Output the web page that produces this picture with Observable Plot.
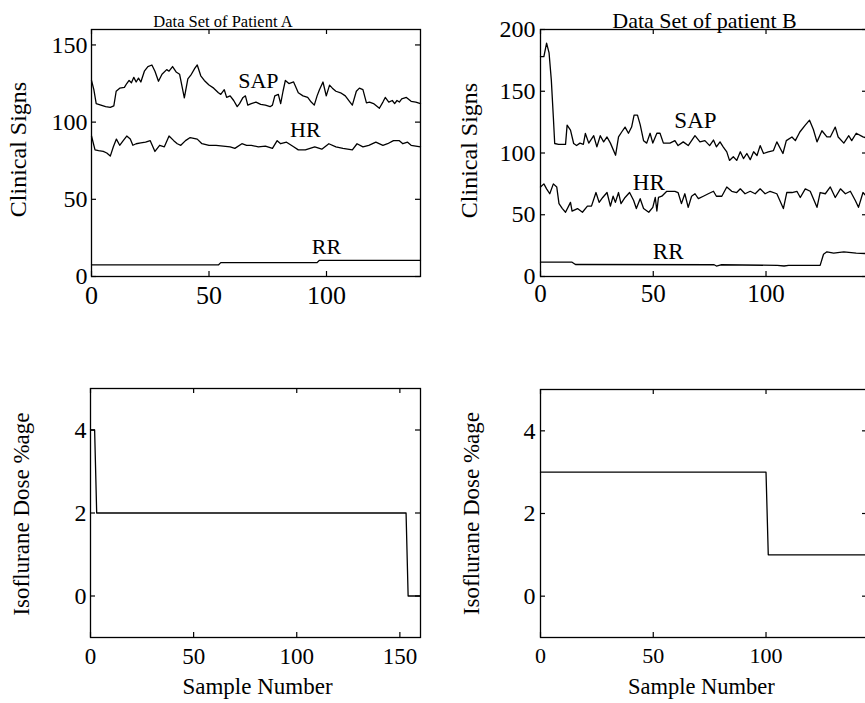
<!DOCTYPE html>
<html>
<head>
<meta charset="utf-8">
<script src="https://cdn.jsdelivr.net/npm/d3@7"></script>
<script src="https://cdn.jsdelivr.net/npm/@observablehq/plot@0.6"></script>
<style>
html, body { margin: 0; padding: 0; background: #fff; overflow: hidden; }
#wrap { position: relative; width: 865px; height: 703px; overflow: hidden; background: #fff; }
.panel { position: absolute; }
</style>
</head>
<body>
<div id="wrap"></div>
<script>
// ---------- Patient A : clinical signs ----------
const aSapX = [0,1,2,4,6,8,9.5,10.5,12,14,15,16,17,18,19,20,21,22.5,24,25.7,27,28.5,30,32,33,34.5,36,37.5,39.5,41,42.5,44,45,46.5,48,50,52,54,55,56.5,57.5,59,60.5,62,63,64.5,65.5,66.5,68,70,72,74,76,77,78,79.5,80.5,81.5,82.5,84,86,88,90,92,93.5,94.8,96,97,98.5,99.9,101.3,102.5,104,106,108,110,111,112.7,114,115.5,117,118.3,120,122.5,124,125,126.5,128,129,130,131,132,134,136,138,140];
const aSap  = [127,121,112,111,110,109.5,110.5,120,122,122.5,125,127,125.5,129,126,128.5,126,133,136,137,133,126.5,131,134,133,136,132.5,131,115.7,128,131,135,137,130,127,124,122,119,118,121,116,117,114,110,112,116,117,111,112,113,111.5,111,110,111,117,118,112,120,127,125,126,119,117,116,113,111,117,121,126,117,124,122,120,119,117,113,111,120,122,121,112.5,113,112,109,113,116,113,114,112,114,113,115,116,113.5,113,112];
const aHrX = [0,1.5,3,5,6.5,8,9.3,10.6,12,13.5,15,16.5,17.6,19,21,23,25,27,29,31,33,35,36.5,38,40,42,45,47,50,53,56,59,61,64,66,68,71,74,77,79,80.5,83,86,88,91,93,95,98,101,104,107,111,113,115.5,118,121,124,126,128.5,131,132.5,134.5,136,140];
const aHr  = [91,82,81.5,81,80,78,84,89,85,88,91,89,85,86,86.5,87,88,81,85,84,91,88,86,85,88,90,89,86,85,85,84.5,84,83,86,85,85,84,84.5,83,88,86,87,84,82,82,83,84,82.5,86,84,83,82,86,84,85,87,85,86,88,88,86,87,85,84];
const aRrX = [0,54,55,96,97,140];
const aRr  = [7.5,7.5,9,9,10.5,10.5];

// ---------- Patient B : clinical signs ----------
const bSapX = [0,1.5,2.7,3.8,4.8,5.7,6.3,8,11.1,11.8,13.3,14.7,16,17.5,19,19.9,21.4,23.6,25,26.5,28,29.5,31,33.3,34.6,36,37.5,39,40.4,41.5,43,44.2,45.7,47.1,48.6,49.8,51.6,53,54.5,57.4,59.6,61,63.3,65.5,68.5,70.7,72.9,75,76.7,78,79.6,81,82.6,83.8,85.5,87,88.6,90,91.5,93,94.5,96,97.4,98.9,101,103.3,104.8,107.5,109,111.5,113,115,117.4,119.3,121,122.6,124.8,127,128.5,130.7,132,134.5,136.7,138,140,143,145];
const bSap  = [178,178,189,181,159,129,107.7,107,107,122.6,118.5,107.7,106,108,107,115.8,108,114,105,114,109,113,108,98.2,113,117,121,116,121,130.7,130.7,123,110,108,116,108,116,116,108,108,110,106,109,106,114,109,110,106,110.5,105,109,105,100.9,94,97,94,101,95.5,99.6,94.6,101,98,106,99.6,101,102,109,99.6,110,113,110,117,122.6,126.6,119,109,118,113,113,121,113,108,114,110,116,113,112];
const bHrX = [0,1.5,2.7,4.1,5.7,7.2,8.2,9.7,11.1,13.3,14,16.4,18.6,20.8,22.6,24.6,26,27.6,29.5,31,32.2,33.2,34.6,35.7,37.5,39.5,41.3,42.5,44.2,45.7,48,49.8,50.9,51.6,52.3,53.8,56,59.6,61,62.5,64,65.5,67,68.5,70,72.2,74.4,76.7,78,80.4,82.6,84.8,87,88.6,90.7,93,95.2,97.4,99.6,101.8,104.8,107.7,109.2,111.5,113.7,115.2,117.4,119.6,122.6,124,126.3,128.5,130.7,133,135.2,137.4,139.6,141,143,145];
const bHr  = [72.5,75,71,67,75,72.5,59,55,52,60,53,55,52,57,57,68,60,64,68,57,65,60,68,59,64,68,61.5,55,63,55,52,56,64,53,64,65,69,69,68,59,67,56,65,67,63,65,67,69,65,65,72.5,69,68,71,67,69,67,71,67,69,67,55,68,68,69,64,71,69,56,68,67,72.5,64,71,67,69,61.5,56,68,64];
const bRrX = [0,14,15.5,77,78,80,105,108,110,124,125.5,127,130,134.5,140,145];
const bRr  = [11.6,11.6,9.7,9.5,8.5,9.5,9,8.5,9,9,18,20,19,20,19,18.5];

// ---------- Isoflurane dose ----------
const aDoseX = [0,2,3,153,154,160];
const aDose  = [4,4,2,2,0,0];
const bDoseX = [0,100,101,145];
const bDose  = [3,3,1,1];

// ---------- Ticks and texts ----------
const topXTicks = [0,50,100];
const aTopYTicks = [0,50,100,150];
const bTopYTicks = [0,50,100,150,200];
const aDoseXTicks = [0,50,100,150];
const bDoseXTicks = [0,50,100];
const doseYTicks = [0,2,4];
const titleA = "Data Set of Patient A";
const titleB = "Data Set of patient B";
const signsLabel = "Clinical Signs";
const doseLabel = "Isoflurane Dose %age";
const sampleLabel = "Sample Number";

const FONT = "'Liberation Serif', 'DejaVu Serif', serif";
const pts = (xs, ys) => xs.map((x, i) => [x, ys[i]]);

function makePanel(c) {
  const innerW = c.width - c.ml - c.mr;
  const innerH = c.height - c.mt - c.mb;
  const tk = {stroke: "black", strokeWidth: 1.2};
  const marks = [
    Plot.frame({stroke: "black", strokeWidth: 1.3}),
    Plot.tickX(c.xTicks, {x: d => d, insetTop: innerH - 5, ...tk}),
    Plot.tickX(c.xTicks, {x: d => d, insetBottom: innerH - 5, ...tk}),
    Plot.tickY(c.yTicks, {y: d => d, insetRight: innerW - 5, ...tk}),
    Plot.tickY(c.yTicks, {y: d => d, insetLeft: innerW - 5, ...tk}),
    Plot.axisX(c.xTicks, {tickSize: 0, tickPadding: c.xPad, fontSize: c.xFont, label: null}),
    Plot.axisY(c.yTicks, {tickSize: 0, tickPadding: c.yPad, fontSize: c.yFont, label: null}),
    ...c.series.map(s => Plot.line(s, {stroke: "black", strokeWidth: 1.3})),
  ];
  if (c.labels) {
    marks.push(Plot.text(c.labels, {x: "x", y: "y", text: "t", fontSize: c.labelFont,
      textAnchor: "middle", lineAnchor: "bottom"}));
  }
  if (c.title) {
    marks.push(Plot.text([c.title], {text: d => d, frameAnchor: "top", lineAnchor: "bottom",
      dx: c.titleDx, dy: c.titleDy, fontSize: c.titleFont}));
  }
  marks.push(Plot.text([c.ylabel], {text: d => d, frameAnchor: "left", rotate: -90,
    lineAnchor: "bottom", textAnchor: "middle", dx: c.ylDx, dy: c.ylDy, fontSize: c.ylFont}));
  if (c.xlabel) {
    marks.push(Plot.text([c.xlabel], {text: d => d, frameAnchor: "bottom", lineAnchor: "bottom",
      dx: c.xlDx, dy: c.xlDy, fontSize: c.xlFont}));
  }
  const chart = Plot.plot({
    width: c.width, height: c.height,
    marginLeft: c.ml, marginRight: c.mr, marginTop: c.mt, marginBottom: c.mb,
    x: {domain: c.xDomain},
    y: {domain: c.yDomain},
    style: {fontFamily: FONT, color: "black", background: "white", maxWidth: "none", overflow: "visible"},
    marks
  });
  const div = document.createElement("div");
  div.className = "panel";
  div.style.left = c.left + "px";
  div.style.top = c.top + "px";
  div.style.width = c.width + "px";
  div.appendChild(chart);
  document.getElementById("wrap").appendChild(div);
}

// Patient A, clinical signs
makePanel({
  left: 0, top: 0, width: 430, height: 320, ml: 91, mr: 10, mt: 29, mb: 44,
  xDomain: [0, 140], yDomain: [0, 160], xTicks: topXTicks, yTicks: aTopYTicks,
  xPad: 9, xFont: 26, yPad: 4, yFont: 24,
  series: [pts(aSapX, aSap), pts(aHrX, aHr), pts(aRrX, aRr)],
  labels: [{x: 71, y: 122, t: "SAP"}, {x: 91, y: 90.3, t: "HR"}, {x: 100, y: 14.8, t: "RR"}],
  labelFont: 22,
  title: titleA, titleDx: -33, titleDy: -2.5, titleFont: 16.5,
  ylabel: signsLabel, ylDx: -66, ylDy: -3.5, ylFont: 24
});

// Patient B, clinical signs
makePanel({
  left: 430, top: 0, width: 442, height: 320, ml: 110, mr: 5, mt: 29, mb: 44,
  xDomain: [0, 145], yDomain: [0, 200], xTicks: topXTicks, yTicks: bTopYTicks,
  xPad: 8, xFont: 25, yPad: 5, yFont: 24,
  series: [pts(bSapX, bSap), pts(bHrX, bHr), pts(bRrX, bRr)],
  labels: [{x: 68.7, y: 120, t: "SAP"}, {x: 48, y: 69.8, t: "HR"}, {x: 56.6, y: 14.4, t: "RR"}],
  labelFont: 23,
  title: titleB, titleDx: 0.5, titleDy: -1.5, titleFont: 22,
  ylabel: signsLabel, ylDx: -64, ylDy: -2.5, ylFont: 24
});

// Patient A, dose
makePanel({
  left: 0, top: 330, width: 430, height: 373, ml: 90, mr: 10, mt: 58, mb: 66,
  xDomain: [0, 160], yDomain: [-1, 5], xTicks: aDoseXTicks, yTicks: doseYTicks,
  xPad: 10, xFont: 23, yPad: 4, yFont: 24,
  series: [pts(aDoseX, aDose)],
  ylabel: doseLabel, ylDx: -62, ylDy: 1, ylFont: 23,
  xlabel: sampleLabel, xlDx: 2, xlDy: 56, xlFont: 23
});

// Patient B, dose
makePanel({
  left: 430, top: 330, width: 442, height: 373, ml: 110, mr: 5, mt: 59, mb: 66,
  xDomain: [0, 145], yDomain: [-1, 5], xTicks: bDoseXTicks, yTicks: doseYTicks,
  xPad: 10, xFont: 22, yPad: 5, yFont: 24,
  series: [pts(bDoseX, bDose)],
  ylabel: doseLabel, ylDx: -62, ylDy: 0, ylFont: 23,
  xlabel: sampleLabel, xlDx: -2.7, xlDy: 56, xlFont: 22.5
});
</script>
</body>
</html>
